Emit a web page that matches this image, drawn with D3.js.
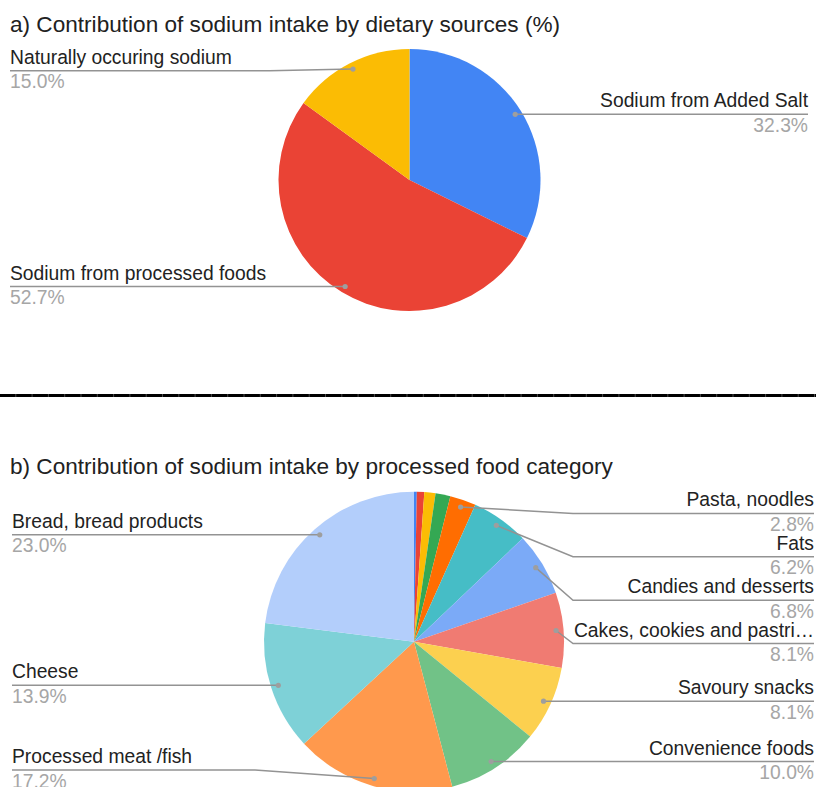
<!DOCTYPE html>
<html>
<head>
<meta charset="utf-8">
<script src="https://cdn.jsdelivr.net/npm/d3@7"></script>
<style>
  html, body { margin: 0; padding: 0; background: #ffffff; }
  svg { display: block; }
  text { font-family: "Liberation Sans", Arial, sans-serif; }
</style>
</head>
<body>
<svg id="chart" width="816" height="787"></svg>
<script>
// a) Sodium intake by dietary source (share, %)
const dietSources = ["Sodium from Added Salt", "Sodium from processed foods", "Naturally occuring sodium"];
const dietShares = [32.3, 52.7, 15.0];
const dietColors = ["#4285F4", "#EA4335", "#FBBC04"];

// b) Sodium intake by processed food category (share, %)
const foodCategories = [
  "Minor category 1", "Minor category 2", "Minor category 3", "Minor category 4",
  "Pasta, noodles", "Fats", "Candies and desserts", "Cakes, cookies and pastries",
  "Savoury snacks", "Convenience foods", "Processed meat /fish", "Cheese", "Bread, bread products"
];
const foodShares = [0.3, 0.8, 1.2, 1.6, 2.8, 6.2, 6.8, 8.1, 8.1, 10.0, 17.2, 13.9, 23.0];
const foodColors = [
  "#4285F4", "#EA4335", "#FBBC04", "#34A853", "#FF6D01", "#46BDC6", "#7BAAF7",
  "#F07B72", "#FCD04F", "#71C287", "#FF994D", "#7ED1D7", "#B3CEFB"
];

// Chart titles
const titles = [
  "a) Contribution of sodium intake by dietary sources (%)",
  "b) Contribution of sodium intake by processed food category"
];

const minLabelShare = 2;          // slices below this share get no label
const labelFont = 19.3;
const titleFont = 22.6;
const fmtPct = d3.format(".1f");

const svg = d3.select("#chart");
svg.append("rect").attr("width", 816).attr("height", 787).attr("fill", "#fff");

function drawPie(cfg) {
  const g = svg.append("g");
  const total = d3.sum(cfg.values);
  const data = cfg.labels.map((label, i) => ({ label, value: cfg.values[i], color: cfg.colors[i] }));
  const arcs = d3.pie().sort(null).value(d => d.value)(data);
  const arc = d3.arc().innerRadius(0).outerRadius(cfg.r);

  // title
  g.append("text")
    .attr("x", 10).attr("y", cfg.titleY)
    .attr("font-size", titleFont).attr("fill", "#212121")
    .text(cfg.title);

  // slices
  g.append("g").attr("transform", `translate(${cfg.cx},${cfg.cy})`)
    .selectAll("path").data(arcs).join("path")
    .attr("d", arc)
    .attr("fill", d => d.data.color);

  // labelled-legend placement
  const half = 21.7;
  const top = cfg.cy - cfg.r, bottom = cfg.cy + cfg.r;
  const items = arcs.filter(a => a.data.value / total * 100 >= minLabelShare).map(a => {
    const mid = (a.startAngle + a.endAngle) / 2;
    const R = cfg.r * 0.95;
    return {
      a,
      side: Math.sin(mid) >= 0 ? "right" : "left",
      dx: cfg.cx + R * Math.sin(mid),
      dy: cfg.cy - R * Math.cos(mid)
    };
  });

  ["left", "right"].forEach(side => {
    const list = items.filter(d => d.side === side).sort((p, q) => p.dy - q.dy);
    list.forEach((d, i) => {
      d.ly = Math.max(d.dy, top + half, i ? list[i - 1].ly + 2 * half : -Infinity);
    });
    for (let i = list.length - 1; i >= 0; i--) {
      list[i].ly = Math.min(list[i].ly, bottom - half, i < list.length - 1 ? list[i + 1].ly - 2 * half : Infinity);
    }
  });

  const lg = g.append("g");
  items.forEach(d => {
    const right = d.side === "right";
    const bendX = right ? cfg.cx + cfg.r + 9 : cfg.cx - cfg.r - 9;
    const endX = right ? cfg.rightX : cfg.leftX;
    const pts = [[d.dx, d.dy]];
    if (Math.abs(d.ly - d.dy) > 0.5) pts.push([bendX, d.ly]);
    pts.push([endX, d.ly]);

    lg.append("path")
      .attr("d", d3.line()(pts))
      .attr("fill", "none").attr("stroke", "#939393").attr("stroke-width", 1.5);
    lg.append("circle")
      .attr("cx", d.dx).attr("cy", d.dy).attr("r", 2.6)
      .attr("fill", "#9e9e9e");

    const name = lg.append("text")
      .attr("x", endX).attr("y", d.ly - 7)
      .attr("text-anchor", right ? "end" : "start")
      .attr("font-size", labelFont).attr("fill", "#222")
      .text(d.a.data.label);
    // shorten long names that would run into the pie
    const maxW = Math.abs(endX - bendX);
    let s = d.a.data.label;
    while (name.node().getComputedTextLength() > maxW && s.length > 1) {
      s = s.slice(0, -1).trimEnd();
      name.text(s + "…");
    }

    lg.append("text")
      .attr("x", endX).attr("y", d.ly + 17.5)
      .attr("text-anchor", right ? "end" : "start")
      .attr("font-size", labelFont).attr("fill", "#a6a6a6")
      .text(fmtPct(d.a.data.value / total * 100) + "%");
  });
}

drawPie({
  title: titles[0], titleY: 32,
  labels: dietSources, values: dietShares, colors: dietColors,
  cx: 409.5, cy: 180, r: 131, leftX: 10, rightX: 808
});

// divider between the two charts
svg.append("rect").attr("x", 0).attr("y", 394).attr("width", 816).attr("height", 3).attr("fill", "#4a4a4a");
svg.append("line")
  .attr("x1", 0).attr("x2", 816).attr("y1", 395.5).attr("y2", 395.5)
  .attr("stroke", "#000").attr("stroke-width", 3).attr("stroke-dasharray", "15.3 1");

drawPie({
  title: titles[1], titleY: 474,
  labels: foodCategories, values: foodShares, colors: foodColors,
  cx: 414, cy: 641.7, r: 150, leftX: 12, rightX: 814
});
</script>
</body>
</html>
